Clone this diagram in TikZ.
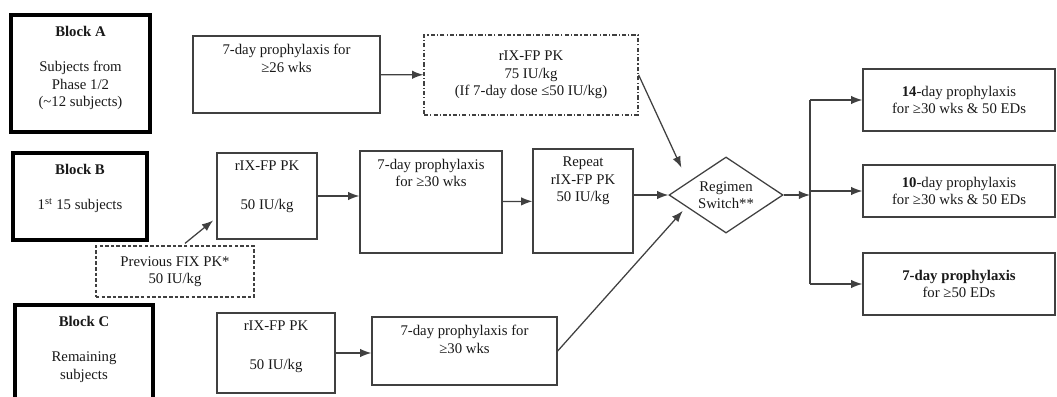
\documentclass[tikz,border=0pt]{standalone}
\usepackage{fontspec}
\setmainfont{Liberation Serif}
\usetikzlibrary{shapes.geometric,calc,arrows.meta}

\begin{document}
\begin{tikzpicture}[
        x=0.025cm, y=-0.025cm, % one unit = one pixel of the scan
        every node/.style={font=\fontsize{10.5}{12.5}\selectfont, text=black!90},
        box/.style={draw=black!75, line width=0.9pt, align=center, inner sep=2pt},
        block/.style={box, line width=2.2pt, draw=black}, % thick frames for the blocks
        pkdash/.style={box, dash pattern=on 3pt off 1.5pt on 0.8pt off 1.5pt},
        prevdash/.style={box, dash pattern=on 2.5pt off 1.5pt},
        toptxt/.style={align=center, anchor=north, inner sep=0pt, yshift=-6pt},
        intop/.style={label={[toptxt]north:{#1}}},
        blocktop/.style={label={[toptxt, yshift=-3pt]north:{#1}}},
        decide/.style={draw=black!75, line width=0.9pt, diamond, aspect=1.5, align=center, inner sep=0pt, minimum width=2.85cm, minimum height=1.9cm},
        arr/.style={draw=black!75, line width=0.9pt, -{Latex[length=8pt,width=6pt]}}
    ]
    \useasboundingbox (0,0) rectangle (1057,396);

    % Block A
    \node[block, minimum width=3.475cm, minimum height=2.925cm,
        blocktop={\textbf{Block A}\\[12.5pt]Subjects from\\Phase 1/2\\(\textasciitilde12 subjects)}] (blockA) at (80.5,73.5) {};
    \node[box, minimum width=4.675cm, minimum height=1.925cm, intop={7-day prophylaxis for\\≥26 wks}] (weekA) at (286.5,74.5) {};
    \node[pkdash, minimum width=5.35cm, minimum height=2cm] (pkA) at (531,75) {rIX-FP PK\\75 IU/kg\\(If 7-day dose ≤50 IU/kg)};

    % Block B
    \node[block, minimum width=3.35cm, minimum height=2.175cm,
        blocktop={\textbf{Block B}\\[12.5pt]1\textsuperscript{st} 15 subjects}] (blockB) at (80,196.5) {};
    \node[box, minimum width=2.5cm, minimum height=2.15cm, intop={rIX-FP PK\\[15pt]50 IU/kg}] (pkB) at (267,196) {};
    \node[prevdash, minimum width=3.95cm, minimum height=1.275cm] (prevPK) at (175,271.5) {Previous FIX PK*\\50 IU/kg};
    \node[box, minimum width=3.55cm, minimum height=2.55cm, intop={7-day prophylaxis\\for ≥30 wks}] (weekB) at (431,202) {};
    \node[box, minimum width=2.5cm, minimum height=2.6cm, intop={Repeat\\rIX-FP PK\\50 IU/kg}] (repeatPK) at (583,201) {};

    % Block C
    \node[block, minimum width=3.45cm, minimum height=2.625cm,
        blocktop={\textbf{Block C}\\[12.5pt]Remaining\\subjects}] (blockC) at (84,357.5) {};
    \node[box, minimum width=2.95cm, minimum height=2cm, intop={rIX-FP PK\\[15pt]50 IU/kg}] (pkC) at (276,353) {};
    \node[box, minimum width=4.625cm, minimum height=1.7cm, intop={7-day prophylaxis for\\≥30 wks}] (weekC) at (464.5,351) {};

    % switch and the three regimens
    \node[decide] (switch) at (726,195) {Regimen\\Switch**};
    \node[box, minimum width=4.8cm, minimum height=1.55cm] (out14) at (959,100) {\textbf{14}-day prophylaxis\\for ≥30 wks \& 50 EDs};
    \node[box, minimum width=4.8cm, minimum height=1.3cm] (out10) at (959,191) {\textbf{10}-day prophylaxis\\for ≥30 wks \& 50 EDs};
    \node[box, minimum width=4.8cm, minimum height=1.55cm] (out7) at (959,284) {\textbf{7-day prophylaxis}\\for ≥50 EDs};

    % connectors
    \draw[arr] (weekA) -- (pkA);
    \draw[arr, shorten >=0.39cm] (pkA.east) -- ($(switch.west)!0.34!(switch.north)$);
    \draw[arr, shorten >=3pt] ($(prevPK.north)+(10,-2)$) -- ($(pkB.south west)!0.25!(pkB.north west)$);
    \draw[arr] (pkB.east) -- (pkB.east -| weekB.west);
    \draw[arr] (weekB) -- (repeatPK);
    \draw[arr] (repeatPK.east |- switch) -- (switch.west);
    \draw[arr] (pkC.east) -- (pkC.east -| weekC.west);
    \draw[arr, shorten >=0.13cm] (weekC.east) -- ($(switch.west)!0.31!(switch.south)$);

    \coordinate (split) at (810,195);
    \draw[arr] (switch.east) -- (split);
    \draw[draw=black!75, line width=0.9pt] (split |- out14.west) -- (split |- out7.west);
    \foreach \o in {out14,out10,out7}
        \draw[arr] (split |- \o.west) -- (\o.west);
\end{tikzpicture}
\end{document}
